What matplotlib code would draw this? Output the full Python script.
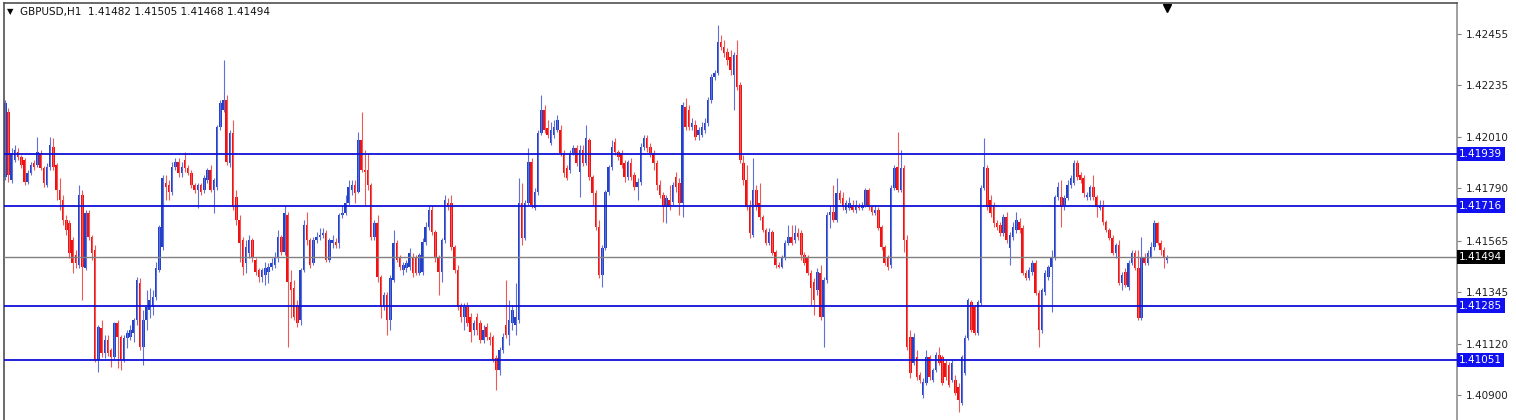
import matplotlib
matplotlib.use("Agg")
import matplotlib.pyplot as plt
import matplotlib.transforms as mtransforms
import numpy as np

# GBPUSD H1 candles, values in points (1e-5) above 1.40000
BASE = 1.40000

opens = [
    1839, 2119, 1826, 1912, 1946, 1925, 1912, 1817, 1856, 1899,
    1890, 1942, 1878, 1804, 1882, 1968, 1890, 1783, 1740, 1654,
    1641, 1568, 1503, 1460, 1762, 1447, 1684, 1581, 1525, 1051,
    1189, 1081, 1137, 1094, 1064, 1210, 1150, 1051, 1146, 1150,
    1167, 1223, 1383, 1107, 1223, 1266, 1279, 1322, 1439, 1538,
    1813, 1804, 1774, 1882, 1903, 1856, 1912, 1878, 1856, 1804,
    1783, 1804, 1783, 1826, 1869, 1783, 1796, 2054, 2128, 2171,
    1899, 2029, 1753, 1654, 1568, 1469, 1512, 1568, 1482, 1439,
    1409, 1417, 1430, 1452, 1460, 1490, 1581, 1516, 1675, 1387,
    1361, 1288, 1223, 1439, 1632, 1568, 1469, 1568, 1581, 1589,
    1598, 1482, 1555, 1559, 1555, 1675, 1684, 1727, 1783, 1804,
    1774, 1998, 1869, 1869, 1804, 1581, 1641, 1409, 1279, 1331,
    1223, 1396, 1555, 1490, 1439, 1447, 1452, 1495, 1495, 1426,
    1430, 1559, 1624, 1697, 1602, 1490, 1430, 1568, 1727, 1727,
    1538, 1439, 1288, 1236, 1279, 1236, 1180, 1236, 1210, 1137,
    1193, 1150, 1150, 1060, 1008, 1094, 1202, 1159, 1210, 1202,
    1223, 1727, 1577, 1727, 1903, 1705, 1774, 2029, 2128, 2050,
    1985, 2020, 2042, 2042, 1942, 1878, 1869, 1942, 1964, 1860,
    1955, 1899, 1998, 1839, 1770, 1624, 1417, 1533, 1774, 1882,
    1990, 1946, 1942, 1899, 1839, 1899, 1847, 1796, 1817, 1968,
    2007, 1968, 1942, 1899, 1804, 1761, 1710, 1740, 1731, 1839,
    1813, 1727, 2141, 2128, 2054, 2063, 2020, 2020, 2042, 2072,
    2171, 2270, 2287, 2420, 2399, 2377, 2356, 2278, 2364, 2235,
    1899, 1826, 1710, 1589, 1783, 1727, 1667, 1611, 1555, 1602,
    1516, 1460, 1452, 1495, 1555, 1581, 1568, 1598, 1598, 1503,
    1495, 1426, 1387, 1352, 1426, 1236, 1396, 1675, 1688, 1654,
    1770, 1749, 1697, 1705, 1718, 1697, 1710, 1705, 1718, 1783,
    1710, 1684, 1697, 1624, 1538, 1495, 1460, 1791, 1882, 1783,
    1878, 1568, 1150, 1038, 1064, 986, 900, 952, 1064, 965,
    1008, 1072, 1064, 1038, 1029, 965, 965, 935, 866, 995,
    1146, 1301, 1279, 1167, 1296, 1791, 1878, 1740, 1718, 1641,
    1632, 1598, 1667, 1533, 1581, 1611, 1645, 1619, 1426, 1404,
    1430, 1469, 1340, 1180, 1344, 1409, 1452, 1495, 1753, 1753,
    1718, 1749, 1804, 1813, 1899, 1847, 1835, 1753, 1753, 1796,
    1753, 1705, 1710, 1645, 1611, 1577, 1512, 1546, 1383, 1430,
    1365, 1469, 1512, 1447, 1232, 1495, 1469, 1495, 1538, 1641,
    1555, 1525, 1482,
]

closes = [
    2158, 1847, 1942, 1955, 1925, 1890, 1817, 1856, 1890, 1882,
    1946, 1878, 1813, 1882, 1977, 1882, 1783, 1740, 1654, 1611,
    1512, 1469, 1469, 1762, 1452, 1684, 1581, 1512, 1051, 1193,
    1081, 1137, 1081, 1064, 1210, 1150, 1051, 1146, 1167, 1180,
    1223, 1396, 1107, 1223, 1279, 1309, 1322, 1447, 1624, 1835,
    1796, 1774, 1882, 1903, 1856, 1882, 1878, 1856, 1804, 1783,
    1804, 1774, 1835, 1869, 1783, 1826, 2054, 2158, 2171, 1903,
    2029, 1710, 1654, 1555, 1452, 1538, 1568, 1495, 1430, 1409,
    1439, 1447, 1452, 1469, 1490, 1581, 1516, 1684, 1387, 1352,
    1236, 1210, 1439, 1632, 1568, 1460, 1568, 1581, 1589, 1598,
    1482, 1568, 1568, 1546, 1675, 1684, 1727, 1796, 1804, 1770,
    1998, 1869, 1860, 1804, 1581, 1641, 1409, 1279, 1331, 1223,
    1404, 1555, 1482, 1452, 1460, 1469, 1512, 1426, 1426, 1503,
    1559, 1624, 1697, 1602, 1490, 1430, 1568, 1740, 1710, 1538,
    1439, 1279, 1236, 1279, 1210, 1172, 1210, 1180, 1137, 1180,
    1150, 1137, 1051, 1008, 1094, 1150, 1159, 1223, 1266, 1236,
    1727, 1577, 1727, 1903, 1718, 1774, 2029, 2128, 2042, 2020,
    2042, 2054, 2085, 1942, 1856, 1835, 1942, 1964, 1899, 1955,
    1899, 2007, 1839, 1770, 1624, 1417, 1533, 1774, 1882, 1968,
    1946, 1925, 1890, 1839, 1903, 1839, 1796, 1817, 1968, 2007,
    1964, 1942, 1899, 1804, 1761, 1710, 1749, 1710, 1804, 1796,
    1727, 2149, 2054, 2054, 2072, 2011, 2042, 2054, 2072, 2171,
    2270, 2287, 2420, 2399, 2373, 2343, 2300, 2364, 2226, 1912,
    1826, 1710, 1598, 1783, 1710, 1667, 1611, 1555, 1602, 1512,
    1460, 1452, 1495, 1555, 1581, 1555, 1598, 1581, 1503, 1469,
    1426, 1361, 1309, 1430, 1236, 1396, 1675, 1688, 1654, 1770,
    1740, 1710, 1727, 1727, 1697, 1718, 1705, 1718, 1783, 1710,
    1688, 1697, 1619, 1538, 1469, 1452, 1791, 1878, 1783, 1878,
    1568, 1107, 995, 1150, 978, 965, 956, 1064, 978, 1008,
    1072, 1038, 952, 978, 943, 1038, 909, 879, 1064, 1146,
    1309, 1180, 1167, 1301, 1791, 1882, 1710, 1684, 1641, 1624,
    1598, 1667, 1568, 1589, 1624, 1654, 1611, 1426, 1404, 1439,
    1469, 1340, 1180, 1352, 1426, 1452, 1495, 1753, 1796, 1710,
    1749, 1804, 1835, 1899, 1839, 1826, 1770, 1761, 1796, 1753,
    1710, 1714, 1645, 1611, 1577, 1512, 1546, 1383, 1417, 1374,
    1469, 1512, 1447, 1232, 1495, 1469, 1512, 1538, 1641, 1555,
    1525, 1490, 1494,
]

highs = [
    2171, 2137, 1964, 1977, 1964, 1934, 1920, 1869, 1903, 1912,
    2011, 1955, 1886, 1899, 2011, 2007, 1899, 1835, 1762, 1675,
    1654, 1581, 1525, 1804, 1783, 1697, 1697, 1589, 1546, 1202,
    1223, 1159, 1159, 1103, 1215, 1223, 1159, 1159, 1180, 1202,
    1232, 1409, 1404, 1266, 1352, 1361, 1352, 1473, 1632, 1847,
    1847, 1826, 1903, 1920, 1920, 1903, 1946, 1890, 1869, 1813,
    1813, 1813, 1847, 1878, 1890, 1835, 2063, 2171, 2343, 2192,
    2042, 2085, 1783, 1675, 1581, 1568, 1589, 1577, 1490, 1447,
    1447, 1473, 1469, 1490, 1516, 1611, 1589, 1718, 1688, 1439,
    1396, 1309, 1447, 1654, 1688, 1577, 1581, 1602, 1619, 1619,
    1611, 1577, 1589, 1577, 1684, 1718, 1761, 1826, 1826, 1826,
    2033, 2119, 1955, 1942, 1813, 1654, 1675, 1417, 1344, 1344,
    1417, 1611, 1568, 1503, 1473, 1482, 1533, 1512, 1503, 1512,
    1577, 1645, 1718, 1718, 1611, 1503, 1577, 1761, 1749, 1761,
    1546, 1460, 1296, 1296, 1301, 1253, 1223, 1253, 1223, 1202,
    1210, 1172, 1159, 1072, 1107, 1167, 1396, 1309, 1288, 1383,
    1835, 1813, 1740, 1964, 1920, 1791, 2042, 2192, 2149, 2085,
    2076, 2085, 2106, 2063, 1955, 1890, 1955, 1977, 1977, 1977,
    1977, 2063, 2007, 1847, 1783, 1654, 1546, 1783, 1890, 1998,
    2007, 1955, 1955, 1912, 1912, 1920, 1860, 1835, 1985, 2020,
    2020, 1985, 1955, 1912, 1826, 1774, 1761, 1804, 1817, 1860,
    1835, 2162, 2179, 2149, 2093, 2085, 2054, 2076, 2093, 2184,
    2283, 2300, 2494, 2451, 2429, 2394, 2386, 2377, 2429, 2248,
    1934, 1890, 1740, 1920, 1804, 1813, 1675, 1619, 1619, 1611,
    1525, 1473, 1503, 1568, 1632, 1632, 1632, 1619, 1611, 1516,
    1503, 1439, 1404, 1447, 1460, 1409, 1688, 1718, 1804, 1835,
    1783, 1774, 1740, 1753, 1740, 1740, 1727, 1731, 1791, 1791,
    1718, 1718, 1710, 1632, 1546, 1503, 1804, 1890, 2033, 1955,
    1890, 1589, 1180, 1167, 1094, 999, 973, 1094, 1072, 1016,
    1085, 1107, 1072, 1051, 1042, 1051, 986, 952, 1072, 1159,
    1318, 1309, 1288, 1309, 1804, 2007, 1890, 1761, 1731, 1654,
    1645, 1680, 1688, 1602, 1645, 1688, 1662, 1632, 1439, 1452,
    1482, 1482, 1352, 1361, 1439, 1460, 1525, 1761, 1817, 1826,
    1761, 1826, 1847, 1912, 1912, 1860, 1847, 1774, 1804, 1847,
    1761, 1740, 1740, 1654, 1619, 1589, 1555, 1568, 1430, 1447,
    1482, 1525, 1525, 1525, 1581, 1512, 1525, 1559, 1654, 1645,
    1568, 1538, 1505,
]

lows = [
    1826, 1817, 1813, 1903, 1912, 1878, 1804, 1809, 1847, 1869,
    1882, 1869, 1796, 1796, 1869, 1869, 1740, 1697, 1632, 1589,
    1490, 1426, 1447, 1447, 1309, 1439, 1568, 1482, 1042, 999,
    1064, 1060, 1068, 1021, 1051, 1017, 1008, 1042, 1103, 1137,
    1128, 1202, 1094, 1029, 1180, 1232, 1245, 1309, 1430, 1525,
    1740, 1740, 1761, 1869, 1839, 1839, 1860, 1847, 1791, 1770,
    1705, 1761, 1770, 1813, 1774, 1684, 1783, 2042, 2119, 1890,
    1882, 1697, 1632, 1473, 1417, 1426, 1490, 1473, 1417, 1387,
    1387, 1374, 1383, 1439, 1447, 1473, 1503, 1503, 1107, 1232,
    1223, 1193, 1202, 1430, 1546, 1447, 1460, 1555, 1568, 1577,
    1473, 1473, 1533, 1533, 1533, 1662, 1675, 1718, 1761, 1727,
    1770, 1860, 1718, 1783, 1568, 1568, 1387, 1232, 1266, 1159,
    1180, 1387, 1473, 1439, 1417, 1430, 1439, 1409, 1417, 1417,
    1417, 1546, 1611, 1589, 1473, 1331, 1387, 1555, 1697, 1525,
    1426, 1266, 1215, 1180, 1197, 1128, 1159, 1159, 1124, 1124,
    1137, 1115, 1042, 922, 986, 1081, 1146, 1115, 1180, 1159,
    1210, 1546, 1568, 1718, 1705, 1697, 1761, 2020, 2029, 2007,
    1977, 2007, 2033, 1929, 1839, 1826, 1856, 1934, 1886, 1753,
    1886, 1890, 1826, 1718, 1611, 1404, 1365, 1525, 1761, 1869,
    1934, 1912, 1878, 1817, 1826, 1826, 1783, 1740, 1804, 1955,
    1946, 1925, 1869, 1783, 1749, 1645, 1641, 1697, 1718, 1774,
    1675, 1667, 2042, 2042, 2042, 1998, 1998, 2011, 2029, 2059,
    2158, 2257, 2278, 2386, 2356, 2321, 2278, 2128, 2214, 1899,
    1804, 1697, 1577, 1581, 1697, 1654, 1602, 1546, 1546, 1503,
    1447, 1447, 1447, 1482, 1546, 1546, 1555, 1568, 1482, 1460,
    1417, 1288, 1245, 1331, 1223, 1107, 1383, 1619, 1645, 1645,
    1727, 1697, 1684, 1697, 1688, 1684, 1697, 1697, 1710, 1697,
    1675, 1675, 1611, 1525, 1460, 1439, 1447, 1783, 1774, 1774,
    1516, 1094, 973, 1029, 965, 952, 887, 943, 965, 956,
    999, 1029, 943, 965, 935, 956, 900, 827, 857, 986,
    1137, 1171, 1159, 1159, 1288, 1783, 1697, 1667, 1624, 1611,
    1585, 1585, 1555, 1460, 1568, 1598, 1598, 1417, 1396, 1396,
    1417, 1331, 1107, 1167, 1331, 1396, 1258, 1482, 1740, 1624,
    1697, 1740, 1791, 1804, 1826, 1813, 1753, 1740, 1740, 1740,
    1667, 1697, 1632, 1602, 1568, 1503, 1490, 1374, 1352, 1365,
    1352, 1460, 1439, 1223, 1223, 1460, 1460, 1490, 1525, 1546,
    1503, 1447, 1468,
]

levels = [1.41939, 1.41716, 1.41285, 1.41051]
bid = 1.41494
ytick_vals = [1.42455, 1.42235, 1.42010, 1.41790, 1.41565, 1.41345, 1.41120, 1.40900]
title = "GBPUSD,H1  1.41482 1.41505 1.41468 1.41494"

o = BASE + np.array(opens) / 1e5
c = BASE + np.array(closes) / 1e5
h = BASE + np.array(highs) / 1e5
l = BASE + np.array(lows) / 1e5
x = np.arange(len(c))

W, H = 1516, 420
fig = plt.figure(figsize=(W / 100, H / 100), dpi=100)
ax = fig.add_axes([4 / W, 0, 1453 / W, 417 / H])

bull = c >= o
bcol = "#2040c8"
rcol = "#f01010"
ax.vlines(x[bull], l[bull], h[bull], color="#6070d8", lw=0.8)
ax.vlines(x[~bull], l[~bull], h[~bull], color="#f05858", lw=0.8)
hgt = np.maximum(np.abs(c - o), 0.000015)
ax.bar(x[bull], hgt[bull], bottom=np.minimum(o, c)[bull], width=0.78,
       color=bcol, linewidth=0)
ax.bar(x[~bull], hgt[~bull], bottom=np.minimum(o, c)[~bull], width=0.78,
       color=rcol, linewidth=0)

for lv in levels:
    ax.axhline(lv, color="#1010d8", lw=1.3, zorder=3)
ax.axhline(bid, color="#808080", lw=1.0, zorder=3)

ax.set_xlim(-0.4, 452.3)
ax.set_ylim(1.40792, 1.42589)
ax.set_xticks([])
ax.yaxis.tick_right()
ax.set_yticks(ytick_vals)
ax.set_yticklabels([f"{v:.5f}" for v in ytick_vals])
ax.tick_params(axis="y", direction="out", length=3, width=0.8, color="#808080",
               labelsize=7.5, labelcolor="#222222", pad=3)

for s in ["left", "top"]:
    ax.spines[s].set_color("#505050")
    ax.spines[s].set_linewidth(1.2)
ax.spines["right"].set_color("#909090")
ax.spines["right"].set_linewidth(1.2)
ax.spines["bottom"].set_visible(False)

trans = mtransforms.blended_transform_factory(ax.transAxes, ax.transData)
for lv in levels:
    ax.text(1.0015, lv, f"{lv:.5f}", transform=trans, ha="left", va="center",
            fontsize=7.5, color="white", clip_on=False,
            bbox=dict(boxstyle="square,pad=0.22", fc="#1010f0", ec="none"))
ax.text(1.0015, bid, f"{bid:.5f}", transform=trans, ha="left", va="center",
        fontsize=7.5, color="white", clip_on=False,
        bbox=dict(boxstyle="square,pad=0.22", fc="black", ec="none"))

# chart shift marker on top
tr2 = mtransforms.blended_transform_factory(ax.transData, ax.transAxes)
ax.plot([x[-1]], [0.988], marker="v", color="black", markersize=6,
        transform=tr2, clip_on=False)

fig.text(7 / W, 1 - 12 / H, "\u25bc", fontsize=6, va="center", ha="left")
fig.text(20 / W, 1 - 12 / H, title, fontsize=7.5, va="center", ha="left",
         color="#111111")

fig.savefig("out.png", dpi=100)
